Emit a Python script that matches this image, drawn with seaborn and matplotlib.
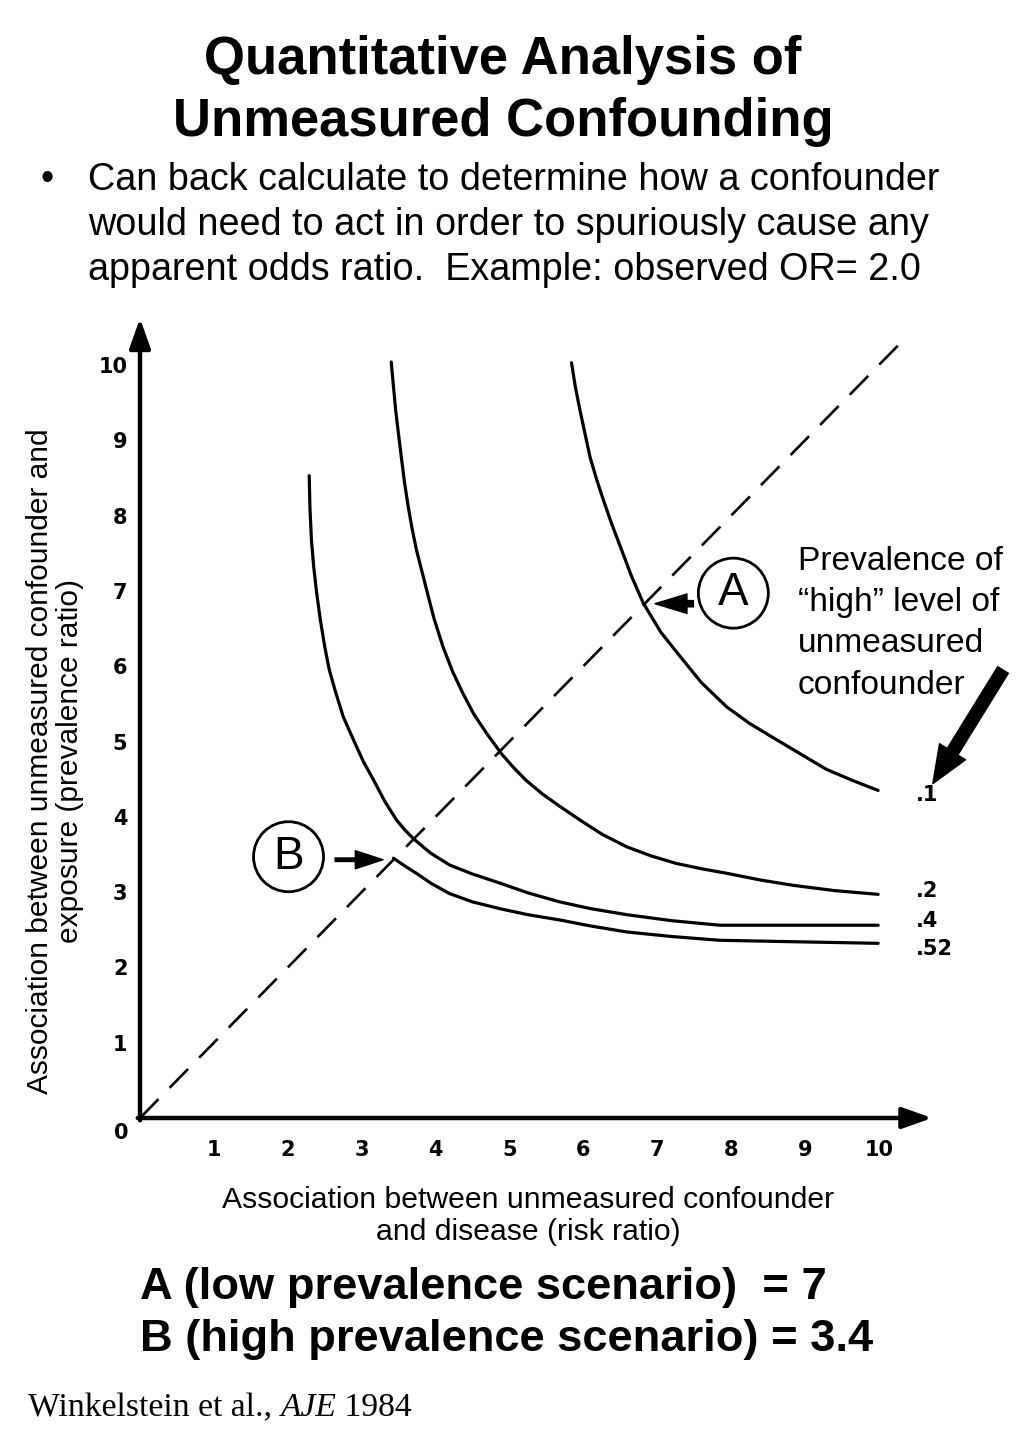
import matplotlib
matplotlib.use("Agg")
import matplotlib.pyplot as plt
from matplotlib.patches import Ellipse
import seaborn as sns
import pandas as pd

# curves: risk ratio (x) vs prevalence ratio (y)
rr_01 = [5.84, 5.89, 5.95, 6.02, 6.09, 6.18, 6.27, 6.38, 6.50, 6.65, 6.81, 7.05,
         7.31, 7.60, 7.94, 8.25, 8.57, 8.93, 9.29, 9.65, 9.99]
pr_01 = [10.03, 9.72, 9.42, 9.10, 8.78, 8.48, 8.21, 7.90, 7.59, 7.20, 6.84, 6.45,
         6.13, 5.78, 5.46, 5.24, 5.05, 4.84, 4.63, 4.48, 4.35]

rr_02 = [3.40, 3.43, 3.46, 3.50, 3.54, 3.58, 3.63, 3.68, 3.74, 3.81, 3.88, 3.98,
         4.10, 4.23, 4.37, 4.52, 4.69, 4.89, 5.05, 5.23, 5.45, 5.68, 5.95, 6.25,
         6.59, 6.92, 7.26, 7.60, 7.94, 8.40, 8.84, 9.40, 9.99]
pr_02 = [10.04, 9.72, 9.40, 9.07, 8.75, 8.44, 8.12, 7.84, 7.55, 7.28, 7.01, 6.63,
         6.26, 5.93, 5.64, 5.36, 5.11, 4.84, 4.66, 4.48, 4.30, 4.14, 3.96, 3.77,
         3.60, 3.48, 3.38, 3.31, 3.25, 3.16, 3.09, 3.02, 2.97]

rr_04 = [2.29, 2.30, 2.32, 2.35, 2.39, 2.44, 2.50, 2.56, 2.64, 2.75, 2.89, 3.02,
         3.16, 3.31, 3.47, 3.58, 3.70, 3.93, 4.19, 4.50, 4.87, 5.25, 5.68, 6.10,
         6.59, 7.20, 7.85, 8.90, 9.99]
pr_04 = [8.53, 8.10, 7.68, 7.33, 6.98, 6.62, 6.26, 5.96, 5.68, 5.33, 5.02, 4.74,
         4.49, 4.21, 3.96, 3.83, 3.71, 3.52, 3.36, 3.24, 3.12, 2.99, 2.87, 2.78,
         2.70, 2.62, 2.56, 2.56, 2.56]

rr_052 = [3.43, 3.58, 3.74, 3.95, 4.19, 4.50, 4.87, 5.25, 5.68, 6.10, 6.59, 7.20,
          7.85, 8.90, 9.99]
pr_052 = [3.45, 3.35, 3.25, 3.11, 2.98, 2.87, 2.78, 2.70, 2.63, 2.55, 2.47, 2.41,
          2.36, 2.34, 2.32]

prevalences = [".1", ".2", ".4", ".52"]
label_y = [4.29, 3.01, 2.61, 2.25]
diag = [0, 10.4]
ticks = list(range(1, 11))

frames = []
for p, xs, ys in zip(prevalences, [rr_01, rr_02, rr_04, rr_052],
                     [pr_01, pr_02, pr_04, pr_052]):
    frames.append(pd.DataFrame({"rr": xs, "pr": ys, "prev": p}))
df = pd.concat(frames, ignore_index=True)

sns.set_style("white")
plt.rcParams["font.family"] = ["Liberation Sans", "DejaVu Sans"]
plt.rcParams["text.color"] = "black"
plt.rcParams["xtick.color"] = "black"
plt.rcParams["ytick.color"] = "black"

W, H = 1024, 1433
fig = plt.figure(figsize=(W / 100, H / 100), dpi=100)


def fx(px):
    return px / W


def fy(py):
    return 1 - py / H


ax = fig.add_axes([140 / W, (H - 1118) / H, 798 / W, 805.7 / H])
ax.set_xlim(0, 10.8)
ax.set_ylim(0, 10.7)

sns.lineplot(data=df, x="rr", y="pr", hue="prev", units="prev", estimator=None,
             sort=False, palette={p: "black" for p in prevalences},
             linewidth=2.3, legend=False, ax=ax)
ax.plot(diag, diag, color="black", lw=1.9, linestyle=(0, (10, 6)))

for s in ax.spines.values():
    s.set_visible(False)
ax.set_xlabel("")
ax.set_ylabel("")
ax.set_xticks(ticks)
ax.set_yticks(ticks)
ax.set_xticklabels([str(t) for t in ticks])
ax.set_yticklabels([str(t) for t in ticks])
ax.tick_params(axis="x", direction="in", length=9, width=1.6, pad=16, labelsize=15)
ax.tick_params(axis="y", direction="in", length=11, width=1.6, pad=9, labelsize=15)
for lab in ax.get_xticklabels() + ax.get_yticklabels():
    lab.set_fontweight("bold")
    lab.set_family("DejaVu Sans")

# axes with arrow heads
arr = dict(arrowstyle="-|>,head_length=0.9,head_width=0.32", lw=3.2, color="black",
           shrinkA=0, shrinkB=0, mutation_scale=20)
ax.annotate("", xy=(10.72, 0), xytext=(-0.03, 0), arrowprops=arr, annotation_clip=False)
ax.annotate("", xy=(0, 10.62), xytext=(0, -0.03), arrowprops=arr, annotation_clip=False)
ax.text(-0.25, -0.2, "0", fontsize=15, fontweight="bold", family="DejaVu Sans",
        ha="center", va="center", clip_on=False)

for p, y in zip(prevalences, label_y):
    ax.text(10.5, y, p, fontsize=15, fontweight="bold", family="DejaVu Sans",
            ha="left", va="center", clip_on=False)

# circled A and B with arrows
for (cx, cy), letter in [((8.03, 6.97), "A"), ((2.01, 3.47), "B")]:
    ax.add_patch(Ellipse((cx, cy), 0.947, 0.93, fill=False, lw=2.0, color="black",
                         clip_on=False))
    ax.text(cx, cy, letter, fontsize=33, ha="center", va="center", clip_on=False)

ax.annotate("", xy=(6.97, 6.83), xytext=(7.49, 6.83),
            arrowprops=dict(arrowstyle="simple,head_length=2.3,head_width=1.4,tail_width=0.45",
                            color="black", shrinkA=0, shrinkB=0, mutation_scale=10))
ax.annotate("", xy=(3.29, 3.43), xytext=(2.64, 3.43),
            arrowprops=dict(arrowstyle="simple,head_length=2.0,head_width=1.3,tail_width=0.25",
                            color="black", shrinkA=0, shrinkB=0, mutation_scale=10))
ax.annotate("", xy=(10.73, 4.44), xytext=(11.68, 5.95), annotation_clip=False,
            arrowprops=dict(arrowstyle="simple,head_length=1.35,head_width=1.1,tail_width=0.45",
                            color="black", shrinkA=0, shrinkB=0, mutation_scale=20))

# slide texts
fig.text(fx(503), fy(60), "Quantitative Analysis of", fontsize=37.9, fontweight="bold",
         ha="center", va="center")
fig.text(fx(503), fy(122), "Unmeasured Confounding", fontsize=37.9, fontweight="bold",
         ha="center", va="center")

fig.text(fx(40), fy(180), "\u2022", fontsize=27, ha="left", va="center")
bullet = ["Can back calculate to determine how a confounder",
          "would need to act in order to spuriously cause any",
          "apparent odds ratio.  Example: observed OR= 2.0"]
for i, line in enumerate(bullet):
    fig.text(fx(88), fy(180 + 45 * i), line, fontsize=27.2, ha="left", va="center")

side = ["Prevalence of", "\u201chigh\u201d level of", "unmeasured", "confounder"]
for i, line in enumerate(side):
    fig.text(fx(798), fy(562 + 41 * i), line, fontsize=24.1, ha="left", va="center")

fig.text(fx(55), fy(761),
         "Association between unmeasured confounder and\nexposure (prevalence ratio)",
         fontsize=21.5, rotation=90, ha="center", va="center", multialignment="center",
         linespacing=1.05)
fig.text(fx(528), fy(1216),
         "Association between unmeasured confounder\nand disease (risk ratio)",
         fontsize=21.7, ha="center", va="center", multialignment="center",
         linespacing=1.15)

fig.text(fx(140), fy(1287), "A (low prevalence scenario)  = 7", fontsize=32.6,
         fontweight="bold", ha="left", va="center")
fig.text(fx(140), fy(1340), "B (high prevalence scenario) = 3.4", fontsize=32.6,
         fontweight="bold", ha="left", va="center")

# citation with italic journal name
renderer = fig.canvas.get_renderer()
t1 = fig.text(fx(28), fy(1408), "Winkelstein et al., ", fontsize=24.2,
              family="Liberation Serif", ha="left", va="center")
x1 = t1.get_window_extent(renderer).x1
t2 = fig.text(x1 / W, fy(1408), "AJE", fontsize=24.2, family="Liberation Serif",
              style="italic", ha="left", va="center")
x2 = t2.get_window_extent(renderer).x1
fig.text(x2 / W, fy(1408), " 1984", fontsize=24.2, family="Liberation Serif",
         ha="left", va="center")

fig.savefig("out.png", dpi=100, facecolor="white")
